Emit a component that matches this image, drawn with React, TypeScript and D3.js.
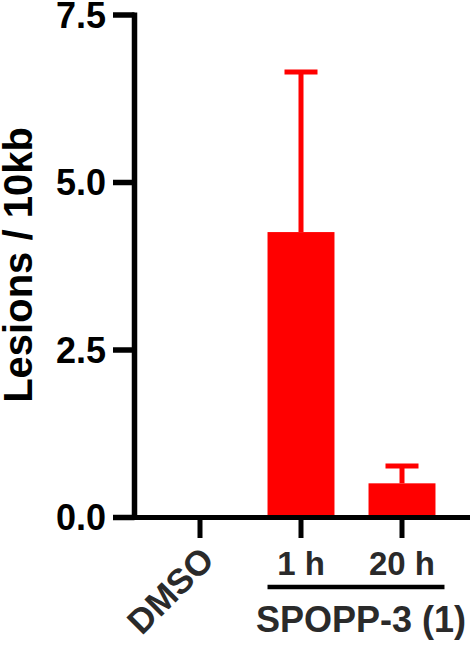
import React from "react";
import * as d3 from "d3";

const categories = ["DMSO", "1 h", "20 h"];
const means = [0, 4.26, 0.51];
const errors = [0, 2.39, 0.26];
const yTicks = [0, 2.5, 5.0, 7.5];
const yLabel = "Lesions / 10kb";
const groupLabel = "SPOPP-3 (1)";
const groupMembers = ["1 h", "20 h"];

const W = 472;
const H = 647;
const FONT = "'Liberation Sans', Arial, sans-serif";

export default function App() {
  const y = d3.scaleLinear().domain([0, 7.5]).range([517.5, 15]);
  const x = d3
    .scaleBand<string>()
    .domain(categories)
    .range([149.5, 452.5])
    .paddingInner(0.337)
    .paddingOuter(0.337 / 2);
  const bw = x.bandwidth();
  const axisX = 134.5;
  const y0 = y(0);
  const red = "#ff0000";
  const g0 = x(groupMembers[0])!;
  const g1 = x(groupMembers[groupMembers.length - 1])! + bw;

  return (
    <svg
      width={W}
      height={H}
      style={{ position: "absolute", left: 0, top: 0, background: "#fff" }}
    >
      {/* bars */}
      {categories.map((c, i) =>
        means[i] > 0 ? (
          <rect
            key={"b" + c}
            x={x(c)!}
            y={y(means[i])}
            width={bw}
            height={y0 - y(means[i])}
            fill={red}
          />
        ) : null
      )}
      {/* error bars */}
      {categories.map((c, i) => {
        if (errors[i] <= 0) return null;
        const cx = x(c)! + bw / 2;
        const top = y(means[i] + errors[i]);
        return (
          <g key={"e" + c} stroke={red} strokeWidth={5}>
            <line x1={cx} x2={cx} y1={y(means[i])} y2={top} />
            <line x1={cx - 16.5} x2={cx + 16.5} y1={top} y2={top} />
          </g>
        );
      })}
      {/* y axis */}
      <line x1={axisX} x2={axisX} y1={y(7.5) - 2.5} y2={y0} stroke="#000" strokeWidth={5.5} />
      {yTicks.map((t) => (
        <g key={"t" + t}>
          <line x1={113} x2={axisX} y1={y(t)} y2={y(t)} stroke="#000" strokeWidth={5.5} />
          <text
            x={106}
            y={y(t)}
            dy="0.36em"
            textAnchor="end"
            fontFamily={FONT}
            fontWeight="bold"
            fontSize={36}
            fill="#000"
          >
            {t.toFixed(1)}
          </text>
        </g>
      ))}
      <text
        transform={`translate(32, 265) rotate(-90)`}
        textAnchor="middle"
        fontFamily={FONT}
        fontWeight="bold"
        fontSize={40}
        fill="#000"
      >
        {yLabel}
      </text>
      {/* x axis */}
      <line x1={113} x2={470} y1={y0} y2={y0} stroke="#000" strokeWidth={5} />
      {categories.map((c) => {
        const cx = x(c)! + bw / 2;
        return (
          <line key={"xt" + c} x1={cx} x2={cx} y1={y0} y2={538} stroke="#000" strokeWidth={5} />
        );
      })}
      {/* x labels */}
      <text
        transform={`translate(216, 562) rotate(-45)`}
        textAnchor="end"
        fontFamily={FONT}
        fontWeight="bold"
        fontSize={35}
        fill="#2a2a2a"
      >
        {categories[0]}
      </text>
      {groupMembers.map((c) => (
        <text
          key={"xl" + c}
          x={x(c)! + bw / 2}
          y={575}
          textAnchor="middle"
          fontFamily={FONT}
          fontWeight="bold"
          fontSize={33}
          fill="#2a2a2a"
        >
          {c}
        </text>
      ))}
      <line x1={g0} x2={g1 + 9} y1={587} y2={587} stroke="#000" strokeWidth={4.5} />
      <text
        x={(g0 + g1 + 9) / 2 + 5}
        y={632}
        textAnchor="middle"
        fontFamily={FONT}
        fontWeight="bold"
        fontSize={36}
        fill="#2a2a2a"
      >
        {groupLabel}
      </text>
    </svg>
  );
}
